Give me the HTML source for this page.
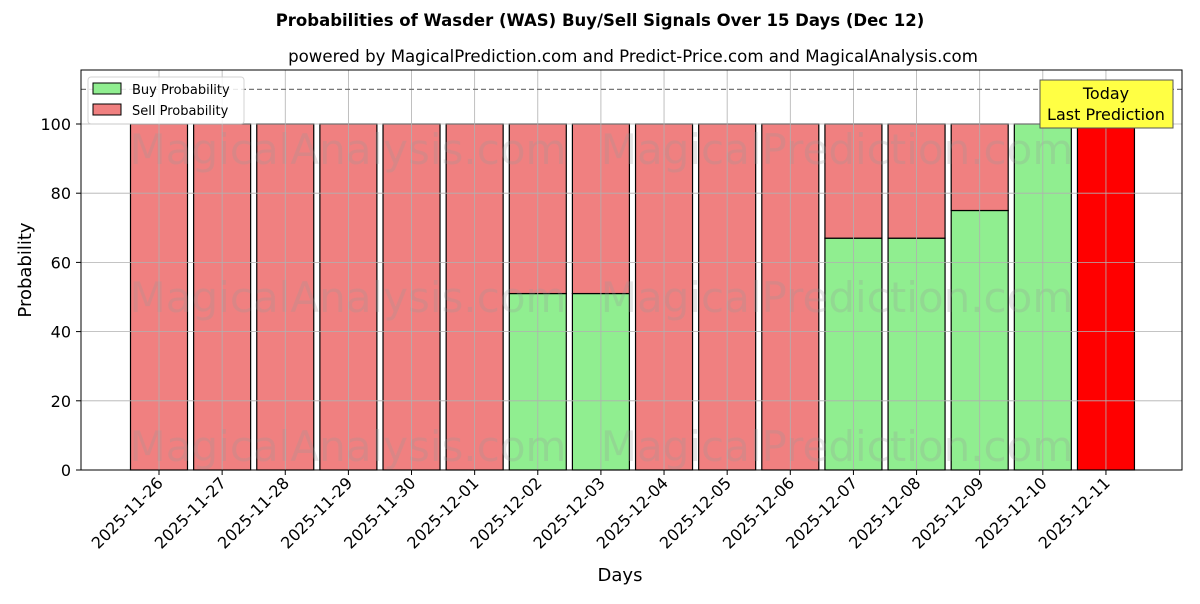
<!DOCTYPE html>
<html><head><meta charset="utf-8"><style>
body{margin:0;background:#fff;font-family:"DejaVu Sans","Liberation Sans",sans-serif}
svg text{font-family:"DejaVu Sans","Liberation Sans",sans-serif}
</style></head><body>
<svg id="chart" width="1200" height="600" xmlns="http://www.w3.org/2000/svg">
<text x="600" y="26" text-anchor="middle" font-size="16.5" font-weight="bold">Probabilities of Wasder (WAS) Buy/Sell Signals Over 15 Days (Dec 12)</text>
<text x="633" y="62" text-anchor="middle" font-size="16.6">powered by MagicalPrediction.com and Predict-Price.com and MagicalAnalysis.com</text>
<g id="bars"></g>
<g id="wm" fill="#999" opacity="0.25" font-size="42"></g>
<g id="grid"></g>
<rect x="81" y="70" width="1101" height="400" fill="none" stroke="#000" stroke-width="1"/>
<g id="axes"></g>
<text x="620" y="581" text-anchor="middle" font-size="18">Days</text>
<text transform="translate(31,270) rotate(-90)" text-anchor="middle" font-size="18">Probability</text>
<g>
<rect x="88" y="77" width="156" height="47" fill="#fff" stroke="#ccc" rx="3" opacity="0.85"/>
<rect x="93" y="83" width="28" height="11" fill="#90ee90" stroke="#000"/>
<text x="132" y="94" font-size="13">Buy Probability</text>
<rect x="93" y="104" width="28" height="11" fill="#f08080" stroke="#000"/>
<text x="132" y="115" font-size="13">Sell Probability</text>
</g>
<g>
<rect x="1040" y="80" width="133" height="48" fill="#ffff44" stroke="#555"/>
<text x="1106" y="99" text-anchor="middle" font-size="16">Today</text>
<text x="1106" y="120" text-anchor="middle" font-size="16">Last Prediction</text>
</g>
</svg>
<script>
const days=["2025-11-26","2025-11-27","2025-11-28","2025-11-29","2025-11-30","2025-12-01","2025-12-02","2025-12-03","2025-12-04","2025-12-05","2025-12-06","2025-12-07","2025-12-08","2025-12-09","2025-12-10","2025-12-11"];
const buy=[0,0,0,0,0,0,51,51,0,0,0,67,67,75,100,0];
const sell=[100,100,100,100,100,100,49,49,100,100,100,33,33,25,0,100];
const yTicks=[0,20,40,60,80,100];
const threshold=110;
const NS="http://www.w3.org/2000/svg";
const X=i=>159+i*63.13, Y=v=>470-v*3.46, BW=57;
function mk(t,a,p){const e=document.createElementNS(NS,t);for(const k in a)e.setAttribute(k,a[k]);p.appendChild(e);return e;}
const bars=document.getElementById('bars'),grid=document.getElementById('grid'),axes=document.getElementById('axes'),wm=document.getElementById('wm');
days.forEach((d,i)=>{
  const last=i===days.length-1;
  if(buy[i]>0){const r=mk('rect',{x:X(i)-BW/2,y:Y(buy[i]),width:BW,height:Y(0)-Y(buy[i]),fill:'#90ee90',stroke:'#000','stroke-width':1.2},bars);
    
    }
  if(sell[i]>0){const r=mk('rect',{x:X(i)-BW/2,y:Y(buy[i]+sell[i]),width:BW,height:Y(buy[i])-Y(buy[i]+sell[i]),fill:last?'#ff0000':'#f08080',stroke:'#000','stroke-width':1.2},bars);
    
    }
  mk('line',{x1:X(i),x2:X(i),y1:70,y2:470,stroke:'#b0b0b0','stroke-width':0.8},grid);
  mk('line',{x1:X(i),x2:X(i),y1:470,y2:475,stroke:'#000'},axes);
  const t=mk('text',{x:0,y:0,'font-size':16,'text-anchor':'end',transform:`translate(${X(i)+5},${484}) rotate(-45)`},axes);
  t.textContent=d;
  
  
});
yTicks.forEach(v=>{
  mk('line',{x1:81,x2:1182,y1:Y(v),y2:Y(v),stroke:'#b0b0b0','stroke-width':0.8},grid);
  mk('line',{x1:76,x2:81,y1:Y(v),y2:Y(v),stroke:'#000'},axes);
  const t=mk('text',{x:71,y:Y(v)+6,'font-size':16,'text-anchor':'end'},axes);
  t.textContent=v;
  
  
});
const th=mk('line',{x1:81,x2:1182,y1:Y(threshold),y2:Y(threshold),stroke:'#777','stroke-dasharray':'5,3','stroke-width':1.2},grid);


[150,298,447].forEach(y=>{
  const a=mk('text',{x:348,y:y+14,'text-anchor':'middle'},wm);a.textContent='MagicalAnalysis.com';
  
  
  const b=mk('text',{x:837,y:y+14,'text-anchor':'middle'},wm);b.textContent='MagicalPrediction.com';
  
  
});
</script>
</body></html>
